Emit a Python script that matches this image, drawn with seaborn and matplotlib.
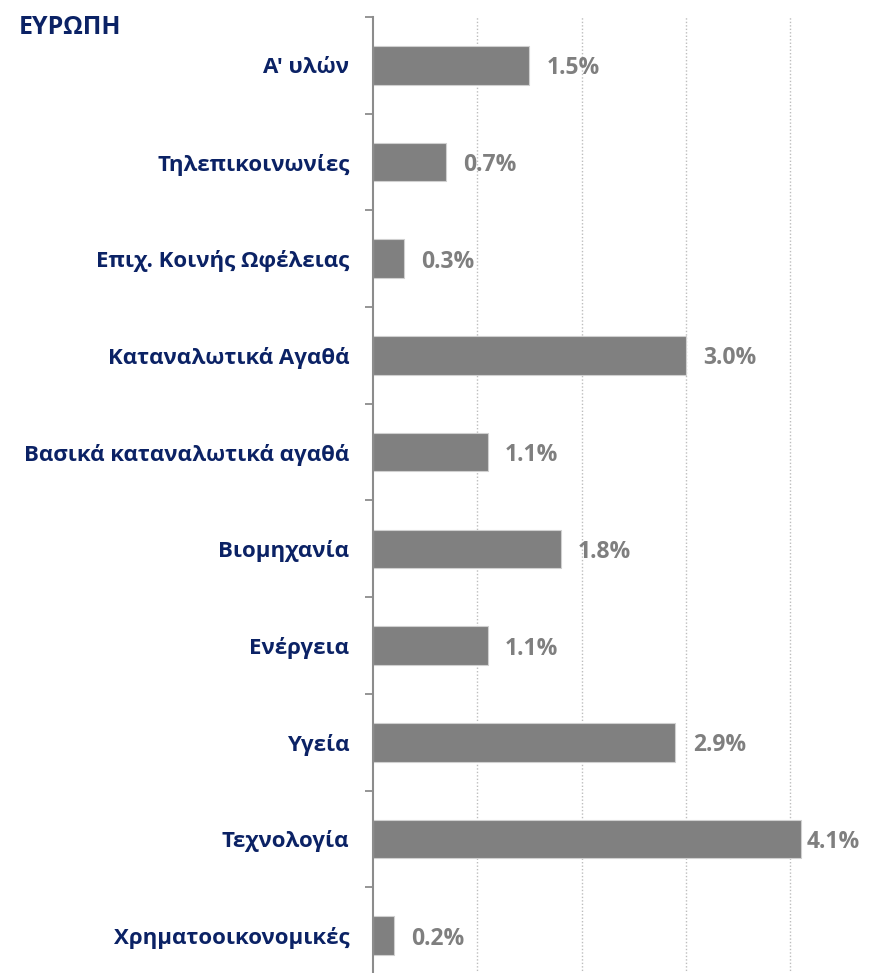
import matplotlib
matplotlib.use("Agg")
import matplotlib.pyplot as plt
import seaborn as sns
import pandas as pd
import numpy as np

categories = ["Α' υλών", "Τηλεπικοινωνίες", "Επιχ. Κοινής Ωφέλειας", "Καταναλωτικά Αγαθά",
              "Βασικά καταναλωτικά αγαθά", "Βιομηχανία", "Ενέργεια", "Υγεία",
              "Τεχνολογία", "Χρηματοοικονομικές"]
values = [1.5, 0.7, 0.3, 3.0, 1.1, 1.8, 1.1, 2.9, 4.1, 0.2]
title = "ΕΥΡΩΠΗ"

sns.set_theme(style="white")
plt.rcParams['font.family'] = ['Open Sans', 'DejaVu Sans']

df = pd.DataFrame({"cat": categories, "val": values})

W, H = 887, 973
fig = plt.figure(figsize=(W / 100, H / 100), dpi=100)
px_per_unit = 104.3
left_px, top_px = 373, 17
right_px = 862
bottom_px = top_px + 10 * 96.7
xmax = (right_px - left_px) / px_per_unit
ax = fig.add_axes([left_px / W, (H - bottom_px) / H, (right_px - left_px) / W, (bottom_px - top_px) / H])

sns.barplot(data=df, x="val", y="cat", orient="h", color="#808080", saturation=1,
            width=0.4, edgecolor="#d0d0d0", linewidth=0.8, ax=ax, zorder=3)

ax.set_xlim(0, xmax)
ax.set_ylim(9.5, -0.5)
ax.set_xlabel("")
ax.set_ylabel("")

navy = "#0b2265"
ax.set_xticks([1, 2, 3, 4])
ax.set_xticklabels([])
ax.tick_params(axis="x", length=0)
ax.xaxis.grid(True, linestyle=(0, (1, 1.5)), color="#bdbdbd", linewidth=1.0)
ax.yaxis.grid(False)

ax.set_yticks(range(len(categories)))
ax.set_yticklabels(categories, fontsize=16, fontweight="bold", color=navy, va="center_baseline")
ax.set_yticks(np.arange(-0.5, len(categories), 1.0), minor=True)
ax.tick_params(axis="y", which="major", left=False, length=0, pad=17)
ax.tick_params(axis="y", which="minor", left=True, length=6, width=1.3, color="#8c8c8c", direction="out")

for s in ["top", "right", "bottom"]:
    ax.spines[s].set_visible(False)
ax.spines["left"].set_color("#8c8c8c")
ax.spines["left"].set_linewidth(1.5)
ax.spines["left"].set_zorder(4)

fig.canvas.draw()
renderer = fig.canvas.get_renderer()
ax_right = ax.get_window_extent(renderer).x1
for i, v in enumerate(values):
    t = ax.text(v + 0.165, i, f"{v:.1f}%", va="center_baseline", ha="left", fontsize=16.5,
                fontweight="bold", color="#7f7f7f")
    bb = t.get_window_extent(renderer)
    if bb.x1 > ax_right - 2:
        t.set_position((xmax - 0.02, i))
        t.set_ha("right")

fig.text(19 / W, 1 - 25 / H, title, fontsize=18, fontweight="bold", color=navy,
         ha="left", va="center_baseline")

fig.savefig("out.png", dpi=100)
